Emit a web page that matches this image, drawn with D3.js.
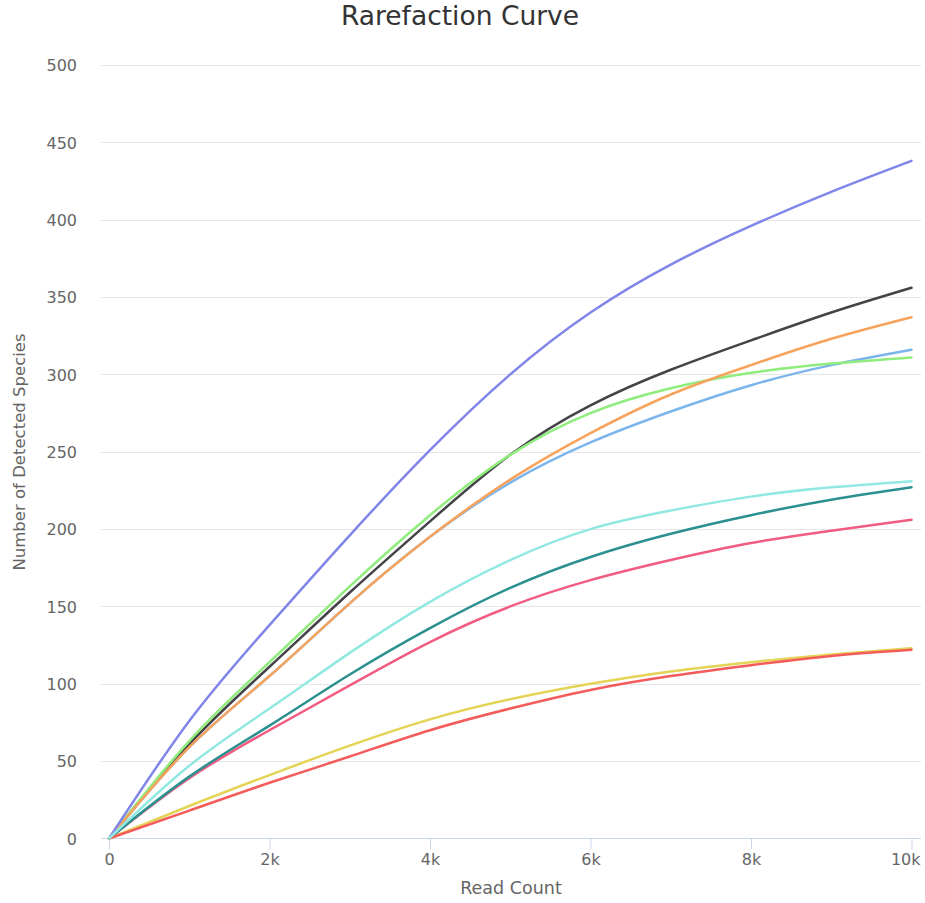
<!DOCTYPE html>
<html>
<head>
<meta charset="utf-8">
<script src="https://cdn.jsdelivr.net/npm/d3@7"></script>
<style>
  html, body { margin: 0; padding: 0; background: #ffffff; }
  svg { display: block; font-family: "DejaVu Sans", Verdana, sans-serif; }
</style>
</head>
<body>
<svg id="chart" width="925" height="903"></svg>
<script>
// Read counts sampled along each rarefaction curve
const readCounts = [0, 1000, 2000, 3000, 4000, 5000, 6000, 7000, 8000, 9000, 10000];

// Detected species per sample at each read count
const sampleA = [0, 59, 105, 152, 195, 230, 256, 276, 293, 306, 316];   // light blue
const sampleB = [0, 61, 111, 159, 205, 248, 280, 303, 322, 340, 356];   // dark grey
const sampleC = [0, 63, 114, 163, 209, 248, 275, 291, 301, 307, 311];   // green
const sampleD = [0, 59, 105, 152, 195, 232, 262, 287, 306, 323, 337];   // orange
const sampleE = [0, 76, 138, 196, 251, 300, 340, 371, 396, 418, 438];   // purple
const sampleF = [0, 39, 70, 99, 127, 150, 167, 180, 191, 199, 206];     // pink
const sampleG = [0, 21, 41, 60, 77, 90, 100, 108, 114, 119, 123];       // yellow
const sampleH = [0, 40, 73, 106, 136, 162, 182, 197, 209, 219, 227];    // teal
const sampleI = [0, 18, 36, 53, 70, 84, 96, 105, 112, 118, 122];        // red
const sampleJ = [0, 47, 84, 120, 153, 180, 200, 212, 221, 227, 231];    // cyan

const seriesValues = [sampleA, sampleB, sampleC, sampleD, sampleE, sampleF, sampleG, sampleH, sampleI, sampleJ];
const seriesColors = ["#7cb5ec", "#434348", "#90ed7d", "#f7a35c", "#8085e9",
                      "#f15c80", "#e4d354", "#2b908f", "#f45b5b", "#91e8e1"];

const xTicks = [0, 2000, 4000, 6000, 8000, 10000];
const yTicks = [0, 50, 100, 150, 200, 250, 300, 350, 400, 450, 500];

const titleText = "Rarefaction Curve";
const xTitle = "Read Count";
const yTitle = "Number of Detected Species";

const svg = d3.select("#chart");

const plotLeft = 101, plotRight = 921;
const x = d3.scaleLinear().domain([0, 10000]).range([109, 911.5]);
const y = d3.scaleLinear().domain([0, 500]).range([838.5, 65]);

// Title
svg.append("text")
  .attr("x", 460).attr("y", 25)
  .attr("text-anchor", "middle")
  .attr("fill", "#333333")
  .style("font-size", "26.5px")
  .text(titleText);

// Horizontal grid lines
svg.append("g")
  .selectAll("line")
  .data(yTicks.filter(d => d > 0))
  .join("line")
  .attr("x1", plotLeft).attr("x2", plotRight)
  .attr("y1", d => Math.round(y(d)) + 0.5)
  .attr("y2", d => Math.round(y(d)) + 0.5)
  .attr("stroke", "#e6e6e6")
  .attr("stroke-width", 1);

// Y axis labels
const yAxis = d3.axisLeft(y)
  .tickValues(yTicks)
  .tickSize(0)
  .tickPadding(0)
  .tickFormat(d3.format("d"));
const gy = svg.append("g").attr("transform", "translate(77,0)").call(yAxis);
gy.select(".domain").remove();
gy.selectAll("text")
  .attr("fill", "#666666")
  .style("font-size", "16px")
  .style("font-family", "'DejaVu Sans', Verdana, sans-serif")
  .attr("dy", "0.36em");

// X axis
const xAxis = d3.axisBottom(x)
  .tickValues(xTicks)
  .tickSize(11)
  .tickPadding(4)
  .tickFormat(d => d === 0 ? "0" : (d / 1000) + "k");
const gx = svg.append("g").attr("transform", "translate(0,838.5)").call(xAxis);
gx.select(".domain")
  .attr("d", `M${plotLeft},0H${plotRight}`)
  .attr("stroke", "#ccd6eb");
gx.selectAll(".tick line").attr("stroke", "#ccd6eb");
gx.selectAll("text")
  .attr("fill", "#666666")
  .style("font-size", "16px")
  .style("font-family", "'DejaVu Sans', Verdana, sans-serif");
// keep the last label inside the plot edge
gx.selectAll(".tick")
  .filter(d => d === 10000)
  .select("text")
  .attr("text-anchor", "end")
  .attr("x", plotRight - 1 - x(10000));

// Axis titles
svg.append("text")
  .attr("x", 511).attr("y", 894)
  .attr("text-anchor", "middle")
  .attr("fill", "#666666")
  .style("font-size", "17.5px")
  .text(xTitle);

svg.append("text")
  .attr("transform", "translate(25,452) rotate(-90)")
  .attr("text-anchor", "middle")
  .attr("fill", "#666666")
  .style("font-size", "16.5px")
  .text(yTitle);

// Curves
const line = d3.line()
  .x((d, i) => x(readCounts[i]))
  .y(d => y(d))
  .curve(d3.curveNatural);

svg.append("g")
  .selectAll("path")
  .data(seriesValues)
  .join("path")
  .attr("d", d => line(d))
  .attr("fill", "none")
  .attr("stroke", (d, i) => seriesColors[i])
  .attr("stroke-width", 2.5)
  .attr("stroke-linejoin", "round")
  .attr("stroke-linecap", "round");
</script>
</body>
</html>
